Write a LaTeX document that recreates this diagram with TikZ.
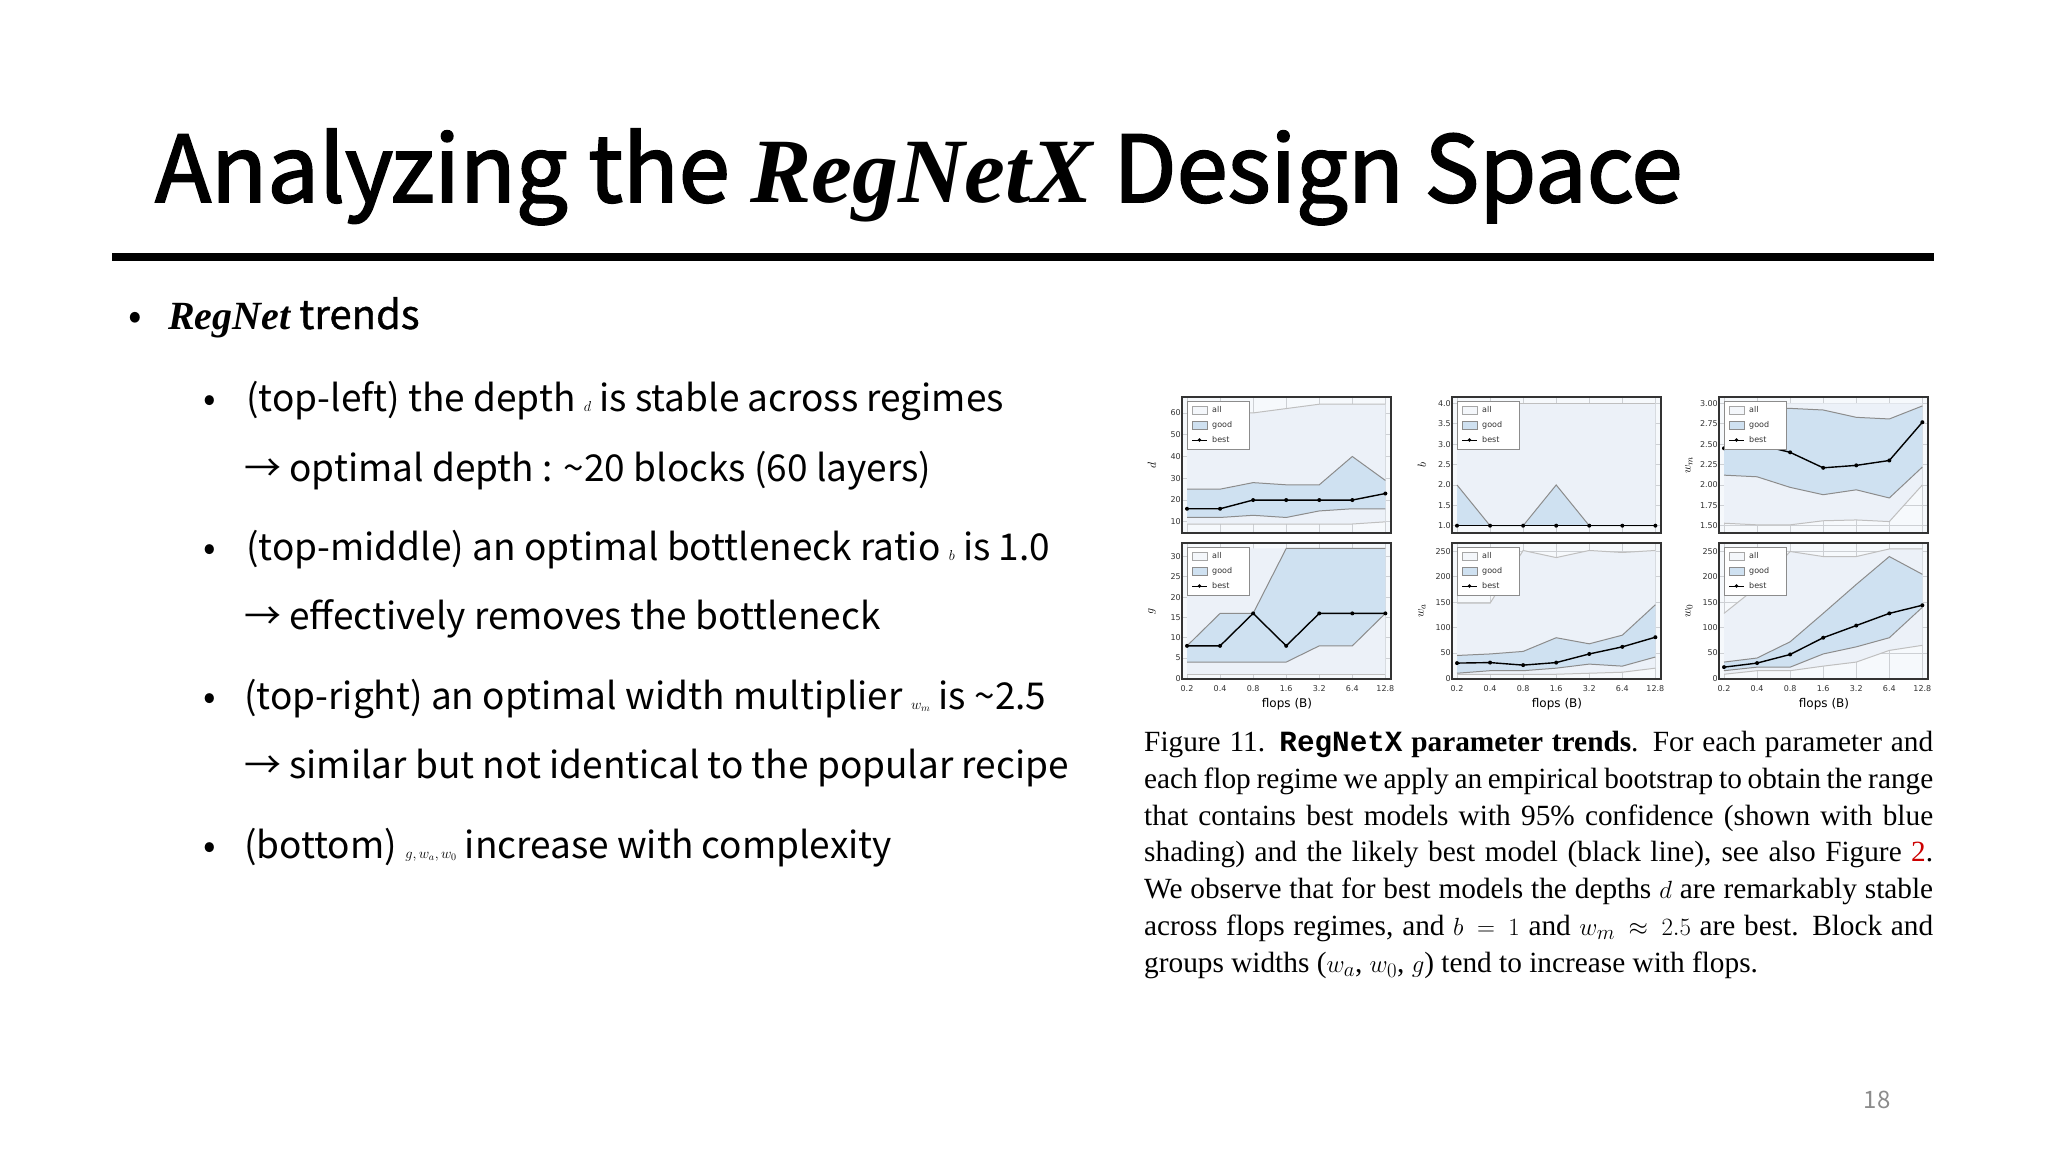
\documentclass[tikz,border=0pt]{standalone}
\usepackage{fontspec}
\setmainfont{Noto Sans CJK KR}
\newfontfamily\itf{Liberation Serif}
\newfontfamily\capf{Liberation Serif}
\newfontfamily\capm{Liberation Mono}
\newfontfamily\plotf{DejaVu Sans}
\definecolor{allc}{RGB}{236,241,248}
\definecolor{goodc}{RGB}{207,225,241}
\definecolor{bgc}{RGB}{246,249,252}
\definecolor{gridc}{RGB}{205,208,212}
\newcommand\fw[7]{(0,#1)--(1,#2)--(2,#3)--(3,#4)--(4,#5)--(5,#6)--(6,#7)}
\newcommand\bw[7]{(6,#7)--(5,#6)--(4,#5)--(3,#4)--(2,#3)--(1,#2)--(0,#1)}
\tikzset{
 gridl/.style={draw=gridc,line width=0.8pt},
 tick/.style={font=\plotf\fontsize{8}{9}\selectfont,inner sep=1pt,text=black!80},
 ylab/.style={font=\plotf\fontsize{13}{14}\selectfont},
 allline/.style={draw=black!25,line width=1pt},
 goodline/.style={draw=black!45,line width=1pt},
 bestline/.style={draw=black,line width=1.4pt},
 bul/.style={anchor=base west,inner sep=0pt,font=\fontsize{37}{42}\selectfont},
}
\newcommand\pnl[7]{% #1 style #2 x0 #3 y0 #4 ymin #5 ymax #6 ticks #7 label
 \fill[bgc] (#2,#3) rectangle ++(209,136);
 \begin{scope}[#1]
  \foreach \i in {0,...,6} \draw[gridl] (\i,#4)--(\i,#5);
  \foreach \t in {#6} {\draw[gridl] (-0.151,\t)--(6.17,\t); \node[tick,anchor=east] at (-0.151,\t) {\t};}
 \end{scope}
 \node[ylab,rotate=90] at (#2-30,#3+68) {#7};
}
\newcommand\legend[2]{%
 \draw[fill=white,draw=black!45,line width=0.7pt] (#1+5,#2+4) rectangle ++(62,48);
 \draw[fill=allc!60,draw=black!35] (#1+10,#2+9) rectangle ++(15,8);
 \draw[fill=goodc,draw=black!45] (#1+10,#2+24) rectangle ++(15,8);
 \draw[black,line width=1pt] (#1+10,#2+43)--(#1+25,#2+43);
 \fill (#1+17.5,#2+43) circle (1.8);
 \node[tick,anchor=west] at (#1+29,#2+13) {all};
 \node[tick,anchor=west] at (#1+29,#2+28) {good};
 \node[tick,anchor=west] at (#1+29,#2+43) {best};
}
\newcommand\bestpts[7]{\foreach \a/\b in {0/#1,1/#2,2/#3,3/#4,4/#5,5/#6,6/#7} \fill (\a,\b) circle[radius=2pt];}
\begin{document}
\begin{tikzpicture}[x=1pt,y=-1pt]
\useasboundingbox (0,0) rectangle (2048,1152);
\fill[white] (0,0) rectangle (2048,1152);
% title
\node[anchor=base west,inner sep=0pt,font=\fontsize{92}{100}\selectfont] (title) at (155,202)
 {\addfontfeature{FakeBold=2}Analyzing the {\itf\itshape\bfseries RegNetX} Design Space};
\fill (112,253) rectangle (1934,261);
% bullets
\node[bul,font=\fontsize{40}{44}\selectfont] (b0) at (128,329) {•};
\node[bul,font=\fontsize{40}{44}\selectfont] (t0) at (168,329) {{\addfontfeature{FakeBold=1}{\itf\itshape\bfseries RegNet} trends}};
\node[bul] (b1) at (203,411) {•};
\node[bul] (t1) at (246,411) {(top-left) the depth {\Large$d$} is stable across regimes};
\node[bul] (t1a) at (244,481) {→ optimal depth : \char"007E 20 blocks (60 layers)};
\node[bul] (b2) at (203,560) {•};
\node[bul] (t2) at (246,560) {(top-middle) an optimal bottleneck ratio {\Large$b$} is 1.0};
\node[bul] (t2a) at (244,629) {→ effectively removes the bottleneck};
\node[bul] (b3) at (203,709) {•};
\node[bul] (t3) at (244,709) {(top-right) an optimal width multiplier {\Large$w_m$} is \char"007E 2.5};
\node[bul] (t3a) at (244,778) {→ similar but not identical to the popular recipe};
\node[bul] (b4) at (203,858) {•};
\node[bul] (t4) at (244,858) {(bottom) {\Large$g, w_a, w_0$} increase with complexity};
% ---- panels
\tikzset{
 pd/.style={shift={(1187,543.6)},x=33.06pt,y=2.178pt},
 pb/.style={shift={(1457,566.4)},x=33.06pt,y=40.72pt},
 pw/.style={shift={(1724,647.8)},x=33.06pt,y=81.44pt},
 pg/.style={shift={(1187,678.3)},x=33.06pt,y=4.057pt},
 pa/.style={shift={(1457,678.3)},x=33.06pt,y=0.5073pt},
 po/.style={shift={(1724,678.3)},x=33.06pt,y=0.5073pt},
}
% d
\pnl{pd}{1182}{397}{4.85}{67.3}{10,20,30,40,50,60}{$d$}
\begin{scope}[pd]
\clip (-0.151,4.85) rectangle (6.17,67.3);
\fill[allc] \fw{60}{60}{60}{62}{64}{64}{64} -- \bw{9}{9}{9}{9}{9}{9}{10} -- cycle;
\fill[goodc] \fw{25}{25}{28}{27}{27}{40}{29} -- \bw{12}{12}{13}{12}{15}{16}{16} -- cycle;
\draw[allline] \fw{60}{60}{60}{62}{64}{64}{64}; \draw[allline] \fw{9}{9}{9}{9}{9}{9}{10};
\draw[goodline] \fw{25}{25}{28}{27}{27}{40}{29}; \draw[goodline] \fw{12}{12}{13}{12}{15}{16}{16};
\draw[bestline] \fw{16}{16}{20}{20}{20}{20}{23}; \bestpts{16}{16}{20}{20}{20}{20}{23}
\end{scope}
\draw[black!80,line width=1.3pt] (1182,397) rectangle ++(209,136);
\legend{1182}{397}
% b
\pnl{pb}{1452}{397}{0.82}{4.16}{1.0,1.5,2.0,2.5,3.0,3.5,4.0}{$b$}
\begin{scope}[pb]
\clip (-0.151,0.82) rectangle (6.17,4.16);
\fill[allc] \fw{4}{4}{4}{4}{4}{4}{4} -- \bw{1}{1}{1}{1}{1}{1}{1} -- cycle;
\fill[goodc] \fw{2}{1}{1}{2}{1}{1}{1} -- \bw{1}{1}{1}{1}{1}{1}{1} -- cycle;
\draw[allline] \fw{4}{4}{4}{4}{4}{4}{4};
\draw[goodline] \fw{2}{1}{1}{2}{1}{1}{1};
\draw[bestline] \fw{1}{1}{1}{1}{1}{1}{1}; \bestpts{1}{1}{1}{1}{1}{1}{1}
\end{scope}
\draw[black!80,line width=1.3pt] (1452,397) rectangle ++(209,136);
\legend{1452}{397}
% wm
\pnl{pw}{1719}{397}{1.41}{3.08}{1.50,1.75,2.00,2.25,2.50,2.75,3.00}{$w_m$}
\begin{scope}[pw]
\clip (-0.151,1.41) rectangle (6.17,3.08);
\fill[allc] \fw{3}{3}{3}{3}{3}{3}{3} -- \bw{1.53}{1.51}{1.51}{1.56}{1.57}{1.55}{2.0} -- cycle;
\fill[goodc] \fw{2.45}{2.95}{2.94}{2.92}{2.83}{2.81}{2.97} -- \bw{2.12}{2.10}{1.97}{1.88}{1.94}{1.84}{2.22} -- cycle;
\draw[allline] \fw{1.53}{1.51}{1.51}{1.56}{1.57}{1.55}{2.0};
\draw[goodline] \fw{2.45}{2.95}{2.94}{2.92}{2.83}{2.81}{2.97}; \draw[goodline] \fw{2.12}{2.10}{1.97}{1.88}{1.94}{1.84}{2.22};
\draw[bestline] \fw{2.45}{2.5}{2.40}{2.21}{2.24}{2.30}{2.77}; \bestpts{2.45}{2.5}{2.40}{2.21}{2.24}{2.30}{2.77}
\end{scope}
\draw[black!80,line width=1.3pt] (1719,397) rectangle ++(209,136);
\legend{1719}{397}
% g
\pnl{pg}{1182}{543}{-0.17}{33.35}{0,5,10,15,20,25,30}{$g$}
\begin{scope}[pg]
\clip (-0.151,-0.17) rectangle (6.17,33.35);
\fill[allc] \fw{32}{32}{32}{32}{32}{32}{32} -- \bw{1}{1}{1}{1}{1}{1}{1} -- cycle;
\fill[goodc] \fw{8}{16}{16}{32}{32}{32}{32} -- \bw{4}{4}{4}{4}{8}{8}{16} -- cycle;
\draw[allline] \fw{1}{1}{1}{1}{1}{1}{1};
\draw[goodline] \fw{8}{16}{16}{32}{32}{32}{32}; \draw[goodline] \fw{4}{4}{4}{4}{8}{8}{16};
\draw[bestline] \fw{8}{8}{16}{8}{16}{16}{16}; \bestpts{8}{8}{16}{8}{16}{16}{16}
\end{scope}
\draw[black!80,line width=1.3pt] (1182,543) rectangle ++(209,136);
\legend{1182}{543}
% wa
\pnl{pa}{1452}{543}{-1.3}{266.8}{0,50,100,150,200,250}{$w_a$}
\begin{scope}[pa]
\clip (-0.151,-1.3) rectangle (6.17,266.8);
\fill[allc] \fw{148}{148}{252}{238}{252}{248}{252} -- \bw{8}{8}{8}{8}{10}{12}{20} -- cycle;
\fill[goodc] \fw{45}{48}{53}{80}{68}{85}{145} -- \bw{10}{15}{15}{20}{28}{24}{42} -- cycle;
\draw[allline] \fw{148}{148}{252}{238}{252}{248}{252}; \draw[allline] \fw{8}{8}{8}{8}{10}{12}{20};
\draw[goodline] \fw{45}{48}{53}{80}{68}{85}{145}; \draw[goodline] \fw{10}{15}{15}{20}{28}{24}{42};
\draw[bestline] \fw{30}{31}{26}{31}{48}{62}{81}; \bestpts{30}{31}{26}{31}{48}{62}{81}
\end{scope}
\draw[black!80,line width=1.3pt] (1452,543) rectangle ++(209,136);
\legend{1452}{543}
% w0
\pnl{po}{1719}{543}{-1.3}{266.8}{0,50,100,150,200,250}{$w_0$}
\begin{scope}[po]
\clip (-0.151,-1.3) rectangle (6.17,266.8);
\fill[allc] \fw{128}{180}{250}{240}{240}{255}{255} -- \bw{8}{15}{15}{24}{32}{55}{65} -- cycle;
\fill[goodc] \fw{32}{40}{72}{128}{185}{240}{205} -- \bw{15}{22}{22}{48}{62}{80}{140} -- cycle;
\draw[allline] \fw{128}{180}{250}{240}{240}{255}{255}; \draw[allline] \fw{8}{15}{15}{24}{32}{55}{65};
\draw[goodline] \fw{32}{40}{72}{128}{185}{240}{205}; \draw[goodline] \fw{15}{22}{22}{48}{62}{80}{140};
\draw[bestline] \fw{22}{30}{47}{80}{104}{128}{144}; \bestpts{22}{30}{47}{80}{104}{128}{144}
\end{scope}
\draw[black!80,line width=1.3pt] (1719,543) rectangle ++(209,136);
\legend{1719}{543}
% x tick labels
\foreach \x in {1187,1457,1724}{
 \foreach \v [count=\i from 0] in {0.2,0.4,0.8,1.6,3.2,6.4,12.8}
  \node[tick] at (\x+\i*33.06,689) {\v};
 \node[ylab,font=\plotf\fontsize{12}{13}\selectfont] at (\x+100,704) {flops (B)};
}
% caption
\node[anchor=north west,inner sep=0pt,text width=789pt,align=justify,
 font=\capf\fontsize{29.3}{36.8}\selectfont] (cap) at (1144,731)
 {Figure 11. \textbf{{\capm\bfseries RegNetX} parameter trends}. For each parameter and each flop regime we apply an empirical bootstrap to obtain the range that contains best models with 95\% confidence (shown with blue shading) and the likely best model (black line), see also Fig\-ure~{\color{red!80!black}2}. We observe that for best models the depths $d$ are remarkably stable across flops regimes, and $b\,=\,1$ and $w_m\,\approx\,2.5$ are best. Block and groups widths ($w_a$, $w_0$, $g$) tend to increase with flops.};
\node[font=\fontsize{24}{26}\selectfont,text=black!45] (pg) at (1877,1100) {18};
\end{tikzpicture}
\end{document}
